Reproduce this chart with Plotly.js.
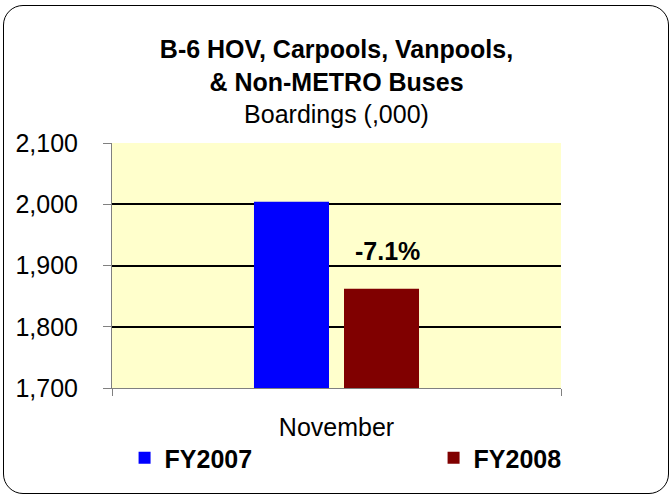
<!DOCTYPE html>
<html>
<head>
<meta charset="utf-8">
<script src="https://cdn.plot.ly/plotly-3.0.1.min.js"></script>
<style>
  html, body { margin: 0; padding: 0; background: #ffffff; }
  #wrap { position: relative; width: 672px; height: 495px; }
  #chart { position: absolute; left: 0; top: 0; width: 672px; height: 495px; }
  #frame { position: absolute; left: 3px; top: 5px; width: 666px; height: 489px;
           box-sizing: border-box; border: 1.5px solid #000; border-radius: 20px;
           pointer-events: none; }
</style>
</head>
<body>
<div id="wrap">
  <div id="chart"></div>
  <div id="frame"></div>
</div>
<script>
// ---- data ----
const categories = ['November'];
const seriesNames = ['FY2007', 'FY2008'];
const fy2007 = [2004];
const fy2008 = [1862];
const yTickVals = [1700, 1800, 1900, 2000, 2100];
const yTickText = ['1,700', '1,800', '1,900', '2,000', '2,100'];
const titleLines = ['B-6 HOV, Carpools, Vanpools,', '& Non-METRO Buses', 'Boardings (,000)'];

const FONT = 'Liberation Sans, Arial, Helvetica, sans-serif';
const FS = 25;
const pct = ((fy2008[0] - fy2007[0]) / fy2007[0] * 100).toFixed(1) + '%';

const traces = [
  { type: 'bar', name: seriesNames[0], x: categories, y: fy2007,
    marker: { color: '#0000FF' }, hoverinfo: 'skip', legend: 'legend' },
  { type: 'bar', name: seriesNames[1], x: categories, y: fy2008,
    marker: { color: '#800000' }, hoverinfo: 'skip', legend: 'legend2' }
];

const legendCommon = {
  orientation: 'h', xanchor: 'left',
  y: (388 - 458) / 245, yanchor: 'middle',
  itemwidth: 30,
  font: { family: FONT, size: FS, color: '#000', weight: 'bold' },
  bgcolor: 'rgba(0,0,0,0)', borderwidth: 0
};

const layout = {
  width: 672, height: 495,
  margin: { l: 112, r: 111, t: 143, b: 107 },
  paper_bgcolor: 'rgba(0,0,0,0)',
  plot_bgcolor: '#FFFFCC',
  font: { family: FONT, color: '#000', size: FS },
  title: {
    text: '<b>' + titleLines[0] + '<br>' + titleLines[1] + '</b><br>' + titleLines[2],
    font: { family: FONT, size: FS, color: '#000' },
    x: 0.5, xanchor: 'center', xref: 'paper',
    y: 1 - 58 / 495, yanchor: 'middle', yref: 'container'
  },
  barmode: 'group',
  bargap: 0.599,
  bargroupgap: 0.1667,
  xaxis: {
    type: 'category',
    showline: true, linecolor: '#808080', linewidth: 1,
    ticks: 'outside', tickson: 'boundaries', ticklen: 7, tickcolor: '#808080',
    showgrid: false,
    tickfont: { family: FONT, size: FS, color: '#000' },
    ticklabelstandoff: 17
  },
  yaxis: {
    range: [1700, 2100],
    tickmode: 'array', tickvals: yTickVals, ticktext: yTickText,
    showline: true, linecolor: '#808080', linewidth: 1,
    ticks: 'outside', ticklen: 8, tickcolor: '#808080',
    showgrid: true, gridcolor: '#000000', gridwidth: 2,
    zeroline: false,
    tickfont: { family: FONT, size: FS, color: '#000' },
    ticklabelstandoff: 20
  },
  showlegend: true,
  legend: Object.assign({}, legendCommon, { x: 0.028 }),
  legend2: Object.assign({}, legendCommon, { x: 0.028 + 309 / 449 }),
  annotations: [{
    xref: 'x', yref: 'y', x: categories[0], y: 1923,
    xshift: 51, showarrow: false,
    text: '<b>' + pct + '</b>',
    font: { family: FONT, size: FS, color: '#000' },
    xanchor: 'center', yanchor: 'middle'
  }]
};

Plotly.newPlot('chart', traces, layout, { displayModeBar: false, staticPlot: true });
</script>
</body>
</html>
